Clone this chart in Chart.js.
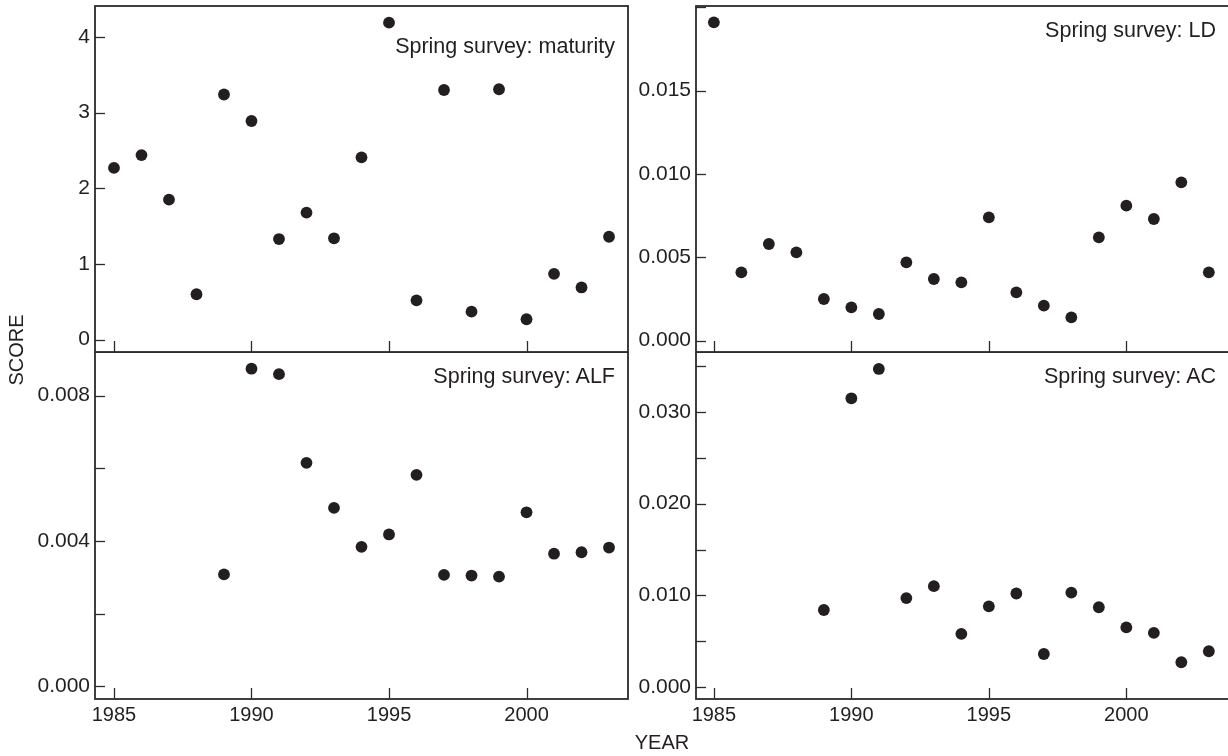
<!DOCTYPE html>
<html><head><meta charset="utf-8">
<script src="https://cdn.jsdelivr.net/npm/chart.js@4/dist/chart.umd.min.js"></script>
<style>
html,body{margin:0;padding:0;background:#fff;width:1228px;height:756px;overflow:hidden;font-family:"Liberation Sans",Arial,sans-serif;color:#231f20}
canvas{position:absolute;display:block}
.t{position:absolute;font-size:21.5px;white-space:nowrap;line-height:24px;text-align:right}
.lab{position:absolute;font-size:20px;white-space:nowrap;line-height:24px}
</style></head><body>
<canvas id="c1" width="640" height="360" style="left:0;top:0"></canvas>
<canvas id="c2" width="602" height="360" style="left:628px;top:0"></canvas>
<canvas id="c3" width="640" height="404" style="left:0;top:352px"></canvas>
<canvas id="c4" width="602" height="404" style="left:628px;top:352px"></canvas>
<div class="t" style="right:613px;top:34px">Spring survey: maturity</div>
<div class="t" style="right:12px;top:17.5px">Spring survey: LD</div>
<div class="t" style="right:613px;top:363.5px">Spring survey: ALF</div>
<div class="t" style="right:12px;top:363.5px">Spring survey: AC</div>
<div class="lab" style="left:4px;top:350px;transform:translate(0,-50%) rotate(-90deg);transform-origin:center;width:24px;text-align:center;display:flex;justify-content:center">SCORE</div>
<div class="lab" style="left:662px;top:730px;transform:translateX(-50%)">YEAR</div>
<script>
const years = [1985,1986,1987,1988,1989,1990,1991,1992,1993,1994,1995,1996,1997,1998,1999,2000,2001,2002,2003];
const maturity = [2.27,2.44,1.85,0.60,3.24,2.89,1.33,1.68,1.34,2.41,4.19,0.52,3.30,0.37,3.31,0.27,0.87,0.69,1.36];
const ld = [0.0191,0.0041,0.0058,0.0053,0.0025,0.0020,0.0016,0.0047,0.0037,0.0035,0.0074,0.0029,0.0021,0.0014,0.0062,0.0081,0.0073,0.0095,0.0041];
const alf = [null,null,null,null,0.00308,0.00874,0.00859,0.00615,0.00491,0.00384,0.00418,0.00582,0.00307,0.00305,0.00302,0.00479,0.00365,0.00369,0.00382];
const ac = [null,null,null,null,0.0084,0.0315,0.0347,0.0097,0.0110,0.0058,0.0088,0.0102,0.0036,0.0103,0.0087,0.0065,0.0059,0.0027,0.0039];

const yearTicks = [1985,1990,1995,2000];
const maturityTicks = [0,1,2,3,4];
const maturityMinor = [];
const ldTicks = [0.000,0.005,0.010,0.015];
const ldMinor = [0.020];
const alfTicks = [0.000,0.004,0.008];
const alfMinor = [0.002,0.006];
const acTicks = [0.000,0.010,0.020,0.030];
const acMinor = [0.005,0.015,0.025,0.035];

const INK = '#231f20';
const framePlugin = {
  id:'frame',
  afterDraw(chart){
    const {ctx, chartArea:a, scales} = chart;
    ctx.save();
    ctx.strokeStyle='#2b2b2b';
    ctx.lineWidth=1.3;
    scales.y.ticks.forEach(t=>{
      const y=Math.round(scales.y.getPixelForValue(t.value))+0.5;
      ctx.beginPath(); ctx.moveTo(a.left,y); ctx.lineTo(a.left+10,y); ctx.stroke();
    });
    scales.x.ticks.forEach(t=>{
      const x=Math.round(scales.x.getPixelForValue(t.value))+0.5;
      ctx.beginPath(); ctx.moveTo(x,a.bottom); ctx.lineTo(x,a.bottom-11); ctx.stroke();
    });
    ctx.lineWidth=1.8;
    ctx.strokeRect(a.left,a.top,a.right-a.left,a.bottom-a.top);
    ctx.restore();
  }
};

function zeroPad(s){ s.paddingTop=0; s.paddingBottom=0; s.paddingLeft=0; s.paddingRight=0; }

function makeChart(id, vals, opt){
  const pts = [];
  years.forEach((yr,i)=>{ if(vals[i]!==null) pts.push({x:yr,y:vals[i]}); });
  const allY = opt.major.concat(opt.minor).sort((a,b)=>a-b);
  return new Chart(document.getElementById(id), {
    type:'scatter',
    data:{datasets:[{data:pts, backgroundColor:INK, borderWidth:0, pointRadius:5.9, pointHoverRadius:5.9, clip:false}]},
    options:{
      responsive:false, animation:false, devicePixelRatio:1,
      layout:{padding:opt.pad, autoPadding:false},
      plugins:{legend:{display:false}, tooltip:{enabled:false}},
      scales:{
        x:{type:'linear', min:opt.xmin, max:opt.xmax,
          afterBuildTicks(s){ s.ticks = yearTicks.map(v=>({value:v})); },
          afterFit(s){ s.height = opt.xh; zeroPad(s); },
          grid:{display:false, drawTicks:false}, border:{display:false},
          ticks:{display:opt.xlabels, padding:4, color:INK, font:{family:'"Liberation Sans", Arial, sans-serif', size:20}, callback:v=>String(v), maxRotation:0, autoSkip:false}
        },
        y:{type:'linear', min:opt.ymin, max:opt.ymax,
          afterBuildTicks(s){ s.ticks = allY.map(v=>({value:v})); },
          afterFit(s){ s.width = opt.yw; zeroPad(s); },
          grid:{display:false, drawTicks:false}, border:{display:false},
          ticks:{padding:5, color:INK, autoSkip:false, font:{family:'"Liberation Sans", Arial, sans-serif', size:21},
            callback:v=>{ const m = opt.major.some(t=>Math.abs(t-v)<1e-9); return m ? v.toFixed(opt.dec) : ''; }}
        }
      }
    },
    plugins:[framePlugin]
  });
}

makeChart('c1', maturity, {xmin:1984.31, xmax:2003.69, ymin:-0.163, ymax:4.41, major:maturityTicks, minor:maturityMinor, dec:0,
  pad:{left:0,top:6,right:12,bottom:8}, yw:95, xh:0, xlabels:false});
makeChart('c2', ld, {xmin:1984.35, xmax:2003.77, ymin:-0.00068, ymax:0.02008, major:ldTicks, minor:ldMinor, dec:3,
  pad:{left:0,top:6,right:0,bottom:8}, yw:68, xh:0, xlabels:false});
makeChart('c3', alf, {xmin:1984.31, xmax:2003.69, ymin:-0.000347, ymax:0.0092, major:alfTicks, minor:alfMinor, dec:3,
  pad:{left:0,top:0,right:12,bottom:0}, yw:95, xh:57, xlabels:true});
makeChart('c4', ac, {xmin:1984.35, xmax:2003.77, ymin:-0.00131, ymax:0.03655, major:acTicks, minor:acMinor, dec:3,
  pad:{left:0,top:0,right:0,bottom:0}, yw:68, xh:57, xlabels:true});
</script>
</body></html>
